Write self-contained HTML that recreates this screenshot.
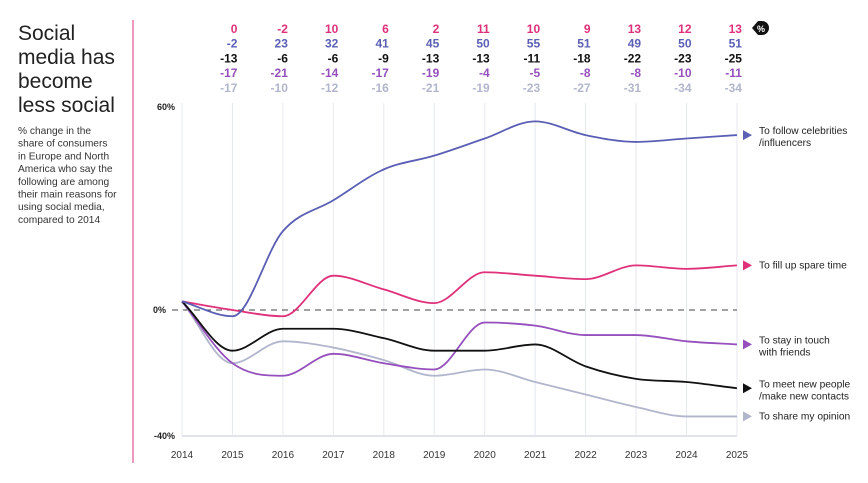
<!DOCTYPE html>
<html><head><meta charset="utf-8"><style>
body{margin:0;background:#fff;width:868px;height:478px;overflow:hidden;font-family:"Liberation Sans",sans-serif}
</style></head><body>
<svg width="868" height="478" xmlns="http://www.w3.org/2000/svg">
<text x="18" y="40" font-size="21" fill="#222"><tspan x="18">Social</tspan><tspan x="18" dy="24">media has</tspan><tspan x="18" dy="24">become</tspan><tspan x="18" dy="24">less social</tspan></text>
<text x="18" y="134" font-size="10.2" fill="#333"><tspan x="18">% change in the</tspan><tspan x="18" dy="12.7">share of consumers</tspan><tspan x="18" dy="12.7">in Europe and North</tspan><tspan x="18" dy="12.7">America who say the</tspan><tspan x="18" dy="12.7">following are among</tspan><tspan x="18" dy="12.7">their main reasons for</tspan><tspan x="18" dy="12.7">using social media,</tspan><tspan x="18" dy="12.7">compared to 2014</tspan></text>
<line x1="133" y1="20" x2="133" y2="463" stroke="#e0307a" stroke-width="1"/>
<g id="grid"></g><g id="lines"></g><g id="labels"></g>
</svg>
<script>
const years=[2014,2015,2016,2017,2018,2019,2020,2021,2022,2023,2024,2025];
const spare=[2.5,0,-2,10,6,2,11,10,9,13,12,13];
const celeb=[2.5,-2,23,32,41,45,50,55,51,49,50,51];
const meet=[2.5,-13,-6,-6,-9,-13,-13,-11,-18,-22,-23,-25];
const friends=[2.5,-17,-21,-14,-17,-19,-4,-5,-8,-8,-10,-11];
const opinion=[2.5,-17,-10,-12,-16,-21,-19,-23,-27,-31,-34,-34];
const yTicks=[60,0,-40];
const NS="http://www.w3.org/2000/svg";
const x=i=>182+i*50.45;
const y=v=>v>=0?310-v*3.43:310-v*3.13;
function mk(t,a,p){const e=document.createElementNS(NS,t);for(const k in a)e.setAttribute(k,a[k]);p.appendChild(e);return e;}
const grid=document.getElementById('grid'),lines=document.getElementById('lines'),labels=document.getElementById('labels');
years.forEach((yr,i)=>{
 const g=mk('line',{x1:x(i),x2:x(i),y1:103,y2:436,stroke:'#e6e8f0','stroke-width':1},grid);
 
 
 const t=mk('text',{x:x(i),y:458,'font-size':10,'text-anchor':'middle',fill:'#333'},labels);t.textContent=yr;
 
 
});
const bl=mk('line',{x1:182,x2:737,y1:436,y2:436,stroke:'#e0e3ec','stroke-width':2},grid);


const zl=mk('line',{x1:172,x2:737,y1:y(0),y2:y(0),stroke:'#444','stroke-dasharray':'6,5','stroke-width':1},grid);


yTicks.forEach(v=>{const t=mk('text',{x:(v==0?166:175),y:(v==-40?439:v==60?110:y(v)+3),'font-size':9,'font-weight':'bold','text-anchor':'end',fill:'#222'},labels);t.textContent=v+'%';
 
 });
function monotone(pts){
 const n=pts.length,d=[],m=[];
 for(let i=0;i<n-1;i++)d.push((pts[i+1][1]-pts[i][1])/(pts[i+1][0]-pts[i][0]));
 for(let i=0;i<n;i++){if(i==0)m.push(d[0]);else if(i==n-1)m.push(d[n-2]);else m.push(d[i-1]*d[i]<=0?0:(d[i-1]+d[i])/2);}
 let s='M'+pts[0][0]+','+pts[0][1];
 for(let i=0;i<n-1;i++){const h=pts[i+1][0]-pts[i][0];s+=' C'+(pts[i][0]+h/3)+','+(pts[i][1]+m[i]*h/3)+' '+(pts[i+1][0]-h/3)+','+(pts[i+1][1]-m[i+1]*h/3)+' '+pts[i+1][0]+','+pts[i+1][1];}
 return s;}
const series=[
 {d:opinion,c:'#b2b6cc',n:'opinion',lab:['To share my opinion']},
 {d:friends,c:'#9550bd',n:'friends',lab:['To stay in touch','with friends']},
 {d:meet,c:'#111',n:'meet',lab:['To meet new people','/make new contacts']},
 {d:spare,c:'#e0307a',n:'spare',lab:['To fill up spare time']},
 {d:celeb,c:'#5a5fb5',n:'celeb',lab:['To follow celebrities','/influencers']}];
series.forEach(s=>{
 const p=mk('path',{d:monotone(s.d.map((v,i)=>[x(i),y(v)])),fill:'none',stroke:s.c,'stroke-width':1.8},lines);
 
 
 const ly=y(s.d[s.d.length-1]);
 const a=mk('polygon',{points:`743,${ly-5} 752,${ly} 743,${ly+5}`,fill:s.c},lines);
 
 
 const t=mk('text',{x:759,y:ly+(s.lab.length>1?-1:3),'font-size':10.2,fill:'#222'},labels);
 
 
 s.lab.forEach((l,k)=>{const ts=mk('tspan',{x:759,dy:k?12:0},t);ts.textContent=l;});
});
const rows=[[spare,'#e0307a'],[celeb,'#5a5fb5'],[meet,'#111'],[friends,'#9550bd'],[opinion,'#b2b6cc']];
rows.forEach((r,ri)=>{for(let i=1;i<years.length;i++){
 const t=mk('text',{x:x(i)+5,y:33+ri*14.7,'font-size':12,'font-weight':'bold','text-anchor':'end',fill:r[1]},labels);
 t.textContent=r[0][i];
 
 }});
const b=mk('path',{d:'M752,28 L758,21 H762 A7,7 0 0 1 762,35 H758 Z',fill:'#111'},labels);


const bt=mk('text',{x:761,y:32,'font-size':9,'font-weight':'bold','text-anchor':'middle',fill:'#fff'},labels);bt.textContent='%';


</script>
</body></html>
